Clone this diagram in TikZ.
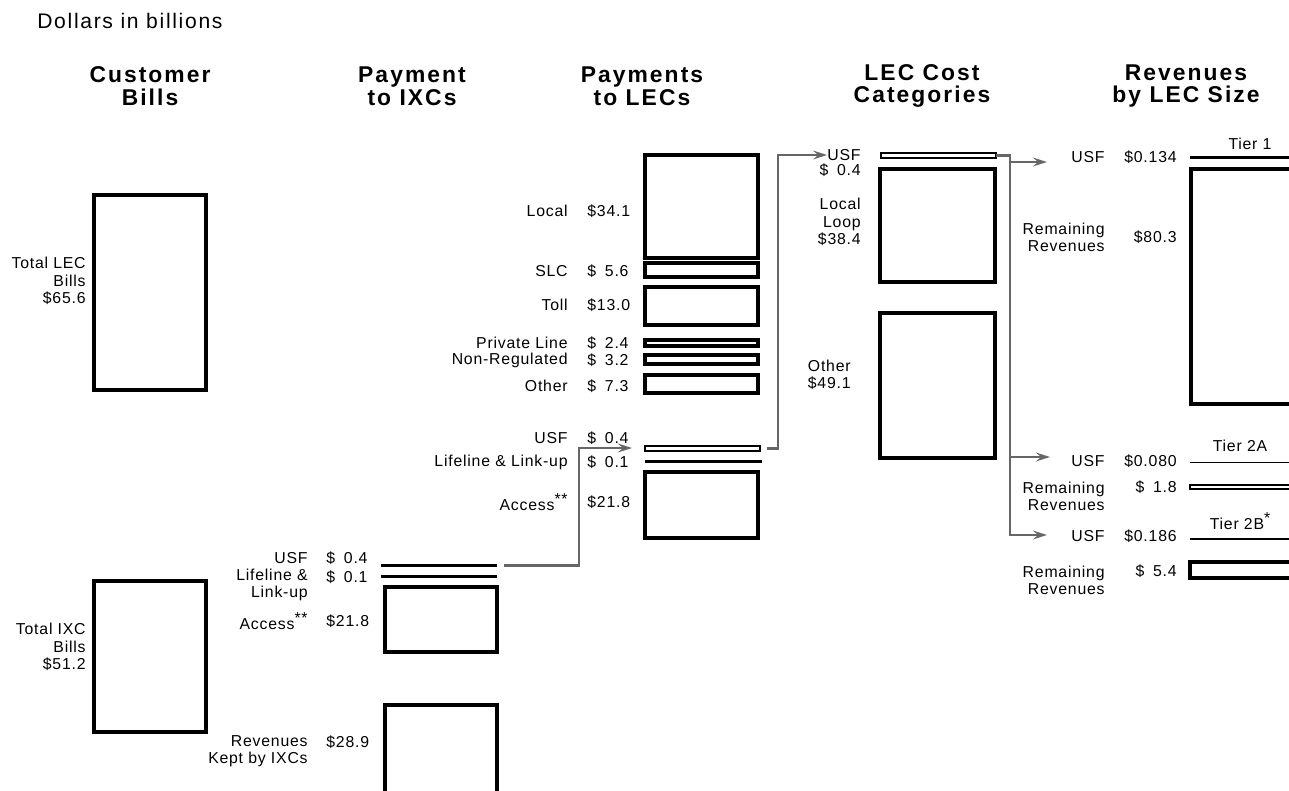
\documentclass[tikz,border=0pt]{standalone}
\usepackage{fontspec}
\setmainfont{Liberation Sans}
\newfontfamily\labfont[LetterSpace=5]{Liberation Sans}
\newfontfamily\titlefont[LetterSpace=8]{Liberation Sans}
\newfontfamily\headfont[LetterSpace=9]{Liberation Sans Bold}
\usepackage{tikz}
\usetikzlibrary{arrows.meta}
\newcommand\fsp{\hphantom{0}}
\newcommand\stars[1]{\raisebox{3.5pt}{#1}}

\begin{document}
\begin{tikzpicture}[x=0.02cm, y=-0.02cm]
	\tikzset{bx/.style = {draw, line width=1.8pt, anchor=north west, inner sep=0pt, outer sep=0pt},
		thinbx/.style = {bx, line width=0.9pt},
		ln/.style = {fill=black, anchor=north west, inner sep=0pt, outer sep=0pt},
		lab/.style = {font=\labfont\fontsize{9}{9.8}\selectfont, inner sep=0pt, anchor=east, align=right},
		val/.style = {lab, anchor=west, align=left},
		tier/.style = {lab, anchor=center, align=center},
		head/.style = {font=\headfont\fontsize{13}{13}\selectfont, align=center},
		flow/.style = {draw=black!60, line width=1.4pt, -{Stealth[length=8pt,width=5pt,inset=3pt]}}}
	\useasboundingbox (0,0) rectangle (1289,791);
	\clip (0,0) rectangle (1289,791);
	\node[anchor=west, font=\titlefont\fontsize{12}{14}\selectfont, inner sep=0pt] (title) at (37,21) {Dollars in billions};
	\foreach \nm/\xx/\yy/\tx in {hcb/150/86/{Customer\\Bills}, hpi/412/86/{Payment\\to IXCs},
		hpl/642/86/{Payments\\to LECs}, hlc/922/86/{LEC Cost\\Categories}, hrv/1186/86/{Revenues\\by LEC Size}}{
		\node[head] (\nm) at (\xx,\yy) {\tx};
	}
	\foreach \nm/\xx/\yy/\w/\h in {lecbill/94/195/112/195, ixcbill/94/581/112/151,
		ixcacc/385/587/112/65, ixckept/385/705/112/100,
		local/645/155/113/103, slc/645/263/113/14, toll/645/287/113/38, pvt/645/340/113/6,
		nonreg/645/355/113/9, lecoth/645/375/113/18, lecacc/645/472/113/66,
		loop/880/169/115/113, costoth/880/313/115/145,
		tierone/1191/169/110/235, tierbrem/1190/562/110/16}{
		\node[bx, minimum width=\w*0.02cm, minimum height=\h*0.02cm] (\nm) at (\xx,\yy) {};
	}
	\foreach \nm/\xx/\yy/\w/\h in {lecusf/645/446/115/5, costusf/881/153/115/5, tierarem/1190/485/110/4}{
		\node[thinbx, minimum width=\w*0.02cm, minimum height=\h*0.02cm] (\nm) at (\xx,\yy) {};
	}
	\foreach \nm/\xx/\yy/\w/\h in {ixcusf/381/564/116/3, ixclife/381/575/116/3, leclife/645/460/117/3,
		tieroneusf/1190/156/110/3, tierausf/1190/462/110/1.2, tierbusf/1190/538/110/2}{
		\node[ln, minimum width=\w*0.02cm, minimum height=\h*0.02cm] (\nm) at (\xx,\yy) {};
	}
	\foreach \nm/\xx/\yy/\tx in {lecbl/86/281/{Total LEC\\Bills\\\$65.6}, ixcbl/86/647/{Total IXC\\Bills\\\$51.2},
		ixcusfl/308/558/USF, ixclifel/308/585/{Lifeline \&\\Link-up}, ixcaccl/308/621/{Access\stars{**}},
		ixckeptl/308/751/{Revenues\\Kept by IXCs},
		locall/568/211/Local, slcl/568/271/SLC, tolll/568/305/Toll, pvtl/568/343/Private Line,
		nonregl/568/360/Non-Regulated, lecothl/568/386/Other, lecusfl/568/438/USF,
		leclifel/568/462/{Lifeline \& Link-up}, lecaccl/568/502/{Access\stars{**}},
		costusfl/861/155/USF, costusfv/861/170/{\$\fsp0.4}, loopl/861/222/{Local\\Loop\\\$38.4},
		costothl/851/375/{Other\\\$49.1},
		tausfl/1105/157/USF, taremr/1105/237/{Remaining\\Revenues}, tausfv/1177/157/{\$0.134}, taremv/1177/237/{\$80.3},
		tbusfl/1105/461/USF, tbreml/1105/496/{Remaining\\Revenues}, tbusfv/1177/461/{\$0.080}, tbremv/1177/487/{\$\fsp1.8},
		tcusfl/1105/536/USF, tcreml/1105/580/{Remaining\\Revenues}, tcusfv/1177/536/{\$0.186}, tcremv/1177/571/{\$\fsp5.4}}{
		\node[lab] (\nm) at (\xx,\yy) {\tx};
	}
	\foreach \nm/\xx/\yy/\tx in {ixcusfv/326/558/{\$\fsp0.4}, ixclifev/326/577/{\$\fsp0.1}, ixcaccv/326/621/{\$21.8},
		ixckeptv/326/742/{\$28.9}, localv/587/211/{\$34.1}, slcv/587/271/{\$\fsp5.6}, tollv/587/305/{\$13.0},
		pvtv/587/343/{\$\fsp2.4}, nonregv/587/360/{\$\fsp3.2}, lecothv/587/386/{\$\fsp7.3},
		lecusfv/587/438/{\$\fsp0.4}, leclifev/587/462/{\$\fsp0.1}, lecaccv/587/502/{\$21.8}}{
		\node[val] (\nm) at (\xx,\yy) {\tx};
	}
	\node[tier] (tone) at (1250,144) {Tier 1};
	\node[tier] (ttwoa) at (1240,446) {Tier 2A};
	\node[tier] (ttwob) at (1240,521) {Tier 2B\stars{*}};
	\coordinate (tipa) at (632,448);
	\coordinate (spine) at (1010,0);
	\coordinate (tipb) at (1047,162);
	\coordinate (tipc) at (1050,457);
	\coordinate (tipd) at (1047,535);
	\draw[flow] ([xshift=4pt]ixcusf.east) -- ++(75,0) |- (tipa);
	\draw[flow] ([xshift=4pt]lecusf.east) -- ++(11,0) |- (costusfl.west);
	\draw[flow] (costusf.east) -- (costusf.east -| spine) |- (tipd);
	\draw[flow] (tipb -| spine) -- (tipb);
	\draw[flow] (tipc -| spine) -- (tipc);
\end{tikzpicture}
\end{document}
